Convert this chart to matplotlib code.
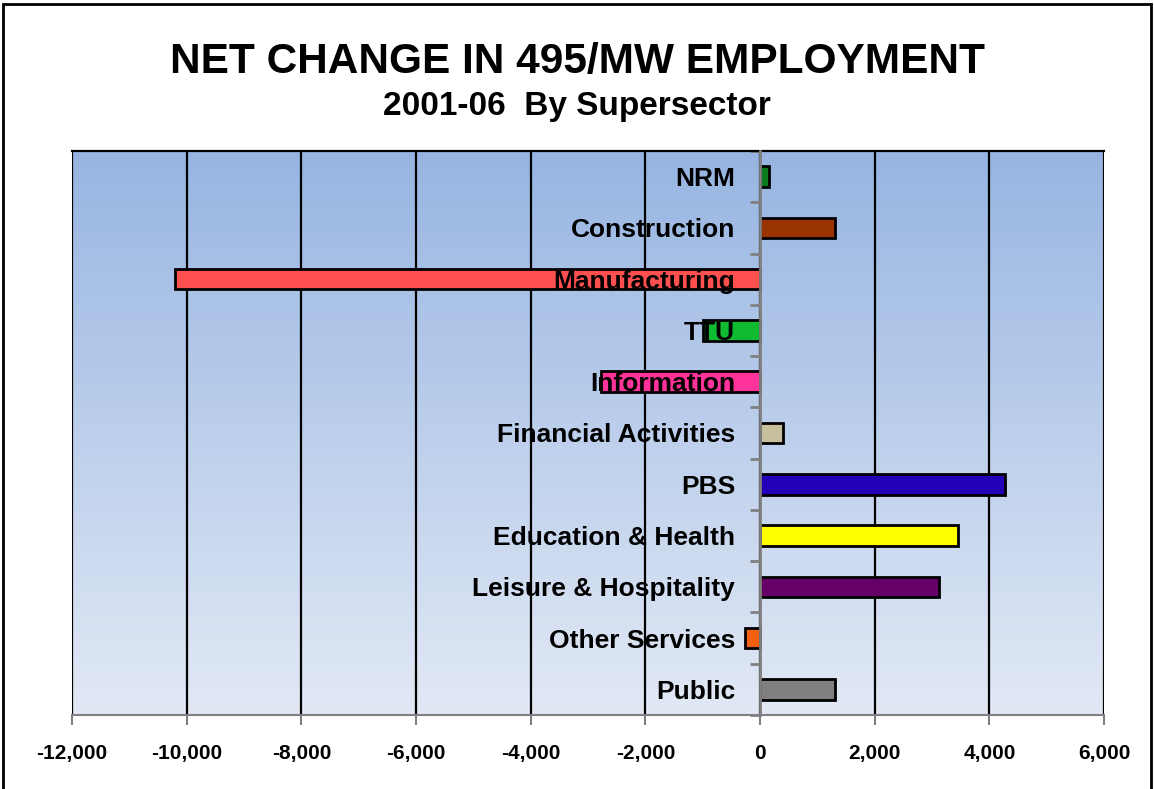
import numpy as np
import matplotlib.pyplot as plt
from matplotlib.patches import Rectangle
from matplotlib.ticker import FuncFormatter

plt.rcParams['font.family'] = ['Liberation Sans', 'DejaVu Sans']
plt.rcParams['font.weight'] = 'bold'

categories = ["NRM", "Construction", "Manufacturing", "TTU", "Information",
              "Financial Activities", "PBS", "Education & Health",
              "Leisure & Hospitality", "Other Services", "Public"]
values = [150, 1300, -10200, -1000, -2780, 400, 4280, 3450, 3120, -270, 1300]
colors = ["#0a7a1e", "#993300", "#ff5050", "#0fbb30", "#ff3399", "#c8c09c",
          "#2400b8", "#ffff00", "#660066", "#f26010", "#808080"]
xticks = np.arange(-12000, 6001, 2000)

fig = plt.figure(figsize=(11.54, 7.89), dpi=100)
W, H = 1154, 789

# outer frame
fig.patches.append(Rectangle((3 / W, -0.05), 1148 / W, (784 + 40) / H, transform=fig.transFigure,
                             fill=False, edgecolor='black', lw=2))

fig.text(0.5, 1 - 62 / H, "NET CHANGE IN 495/MW EMPLOYMENT", ha='center', va='center',
         fontsize=30.5, fontweight='bold')
fig.text(0.5, 1 - 106 / H, "2001-06  By Supersector", ha='center', va='center',
         fontsize=24, fontweight='bold')

ax = fig.add_axes([72 / W, (H - 715) / H, (1104 - 72) / W, (715 - 151) / H])

# gradient background
grad = np.linspace(0, 1, 256).reshape(-1, 1)
top = np.array([151, 181, 226]) / 255
bot = np.array([226, 233, 245]) / 255
img = top[None, None, :] * (1 - grad[:, :, None]) + bot[None, None, :] * grad[:, :, None]
ax.imshow(img, extent=[-12000, 6000, -0.5 + len(categories), -0.5], aspect='auto', zorder=0)

y = np.arange(len(categories))
for xv in xticks:
    ax.axvline(xv, color='black', lw=1.6, zorder=0.5)
ax.barh(y, values, height=0.4, color=colors, edgecolor='black', lw=2, zorder=1)

ax.set_xlim(-12000, 6000)
ax.set_ylim(len(categories) - 0.5, -0.5)

ax.spines['left'].set_position(('data', 0))
ax.spines['left'].set_color('#808080')
ax.spines['left'].set_linewidth(2)
ax.spines['left'].set_zorder(3)
ax.spines['bottom'].set_color('#808080')
ax.spines['bottom'].set_linewidth(1.5)
ax.spines['top'].set_linewidth(1.6)
ax.spines['right'].set_visible(False)

ax.set_yticks(y)
ax.set_yticklabels(categories, fontsize=19, fontweight='bold')
ax.set_yticks(np.arange(len(categories) + 1) - 0.5, minor=True)
ax.tick_params(axis='y', which='major', length=0, pad=18)
ax.tick_params(axis='y', which='minor', length=7, width=2, color='#808080')

ax.set_xticks(xticks)
ax.xaxis.set_major_formatter(FuncFormatter(lambda v, p: f"{int(v):,}"))
ax.tick_params(axis='x', length=7, width=1.5, color='#808080', pad=14, labelsize=15)
for lbl in ax.get_xticklabels():
    lbl.set_fontweight('bold')

fig.savefig("out.png", dpi=100)
